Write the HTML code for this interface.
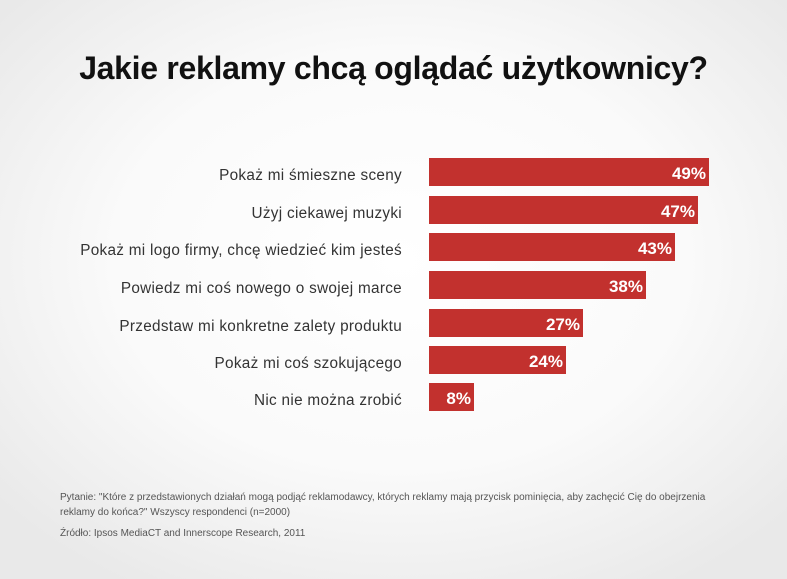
<!DOCTYPE html>
<html><head><meta charset="utf-8"><style>
body{margin:0;width:787px;height:579px;overflow:hidden;font-family:"Liberation Sans",sans-serif;
background:radial-gradient(ellipse 520px 380px at 400px 260px,#ffffff 0%,#fafafa 55%,#e9e9e9 100%);position:relative}
h1{position:absolute;left:0;width:787px;top:50px;margin:0;text-align:center;font-size:32px;font-weight:bold;color:#111;letter-spacing:-0.3px}
.l{position:absolute;right:385px;font-size:15.3px;color:#333;line-height:28px;white-space:nowrap;letter-spacing:0.3px;margin-top:4px}
.b{position:absolute;left:429px;height:28px;background:#c2312e;color:#fff;font-weight:bold;font-size:17px;line-height:31px;text-align:right;box-sizing:border-box;padding-right:3px}
.f{position:absolute;left:60px;font-size:10px;color:#555;line-height:15px}
</style></head><body>
<h1>Jakie reklamy chcą oglądać użytkownicy?</h1>
<div class="l" style="top:158px">Pokaż mi śmieszne sceny</div><div class="b" style="top:158px;width:280px">49%</div>
<div class="l" style="top:196px">Użyj ciekawej muzyki</div><div class="b" style="top:196px;width:269px">47%</div>
<div class="l" style="top:233px">Pokaż mi logo firmy, chcę wiedzieć kim jesteś</div><div class="b" style="top:233px;width:246px">43%</div>
<div class="l" style="top:271px">Powiedz mi coś nowego o swojej marce</div><div class="b" style="top:271px;width:217px">38%</div>
<div class="l" style="top:309px">Przedstaw mi konkretne zalety produktu</div><div class="b" style="top:309px;width:154px">27%</div>
<div class="l" style="top:346px">Pokaż mi coś szokującego</div><div class="b" style="top:346px;width:137px">24%</div>
<div class="l" style="top:383px">Nic nie można zrobić</div><div class="b" style="top:383px;width:45px">8%</div>
<div class="f" style="top:490px">Pytanie: "Które z przedstawionych działań mogą podjąć reklamodawcy, których reklamy mają przycisk pominięcia, aby zachęcić Cię do obejrzenia<br>reklamy do końca?" Wszyscy respondenci (n=2000)</div>
<div class="f" style="top:526px">Źródło: Ipsos MediaCT and Innerscope Research, 2011</div>
</body></html>
